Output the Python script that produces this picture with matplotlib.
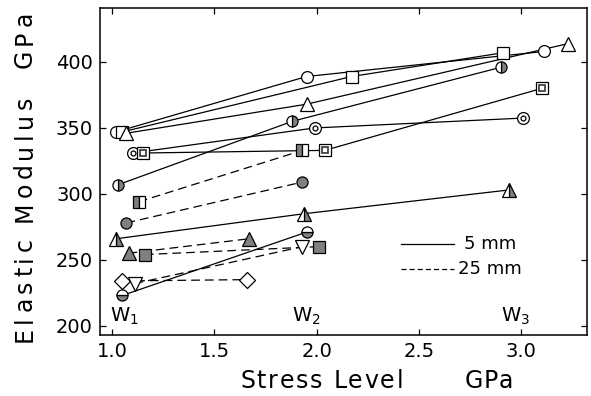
import matplotlib
matplotlib.use("Agg")
import matplotlib.pyplot as plt

# stress level (GPa) and elastic modulus (GPa) at W1, W2, W3
# 5 mm gauge length (solid lines)
circ_x, circ_y = [1.02, 1.95, 3.11], [347, 389, 408]
sq_x, sq_y = [1.05, 2.17, 2.91], [347, 389, 407]
tri_x, tri_y = [1.07, 1.95, 3.23], [346, 368, 414]
hcirc_x, hcirc_y = [1.03, 1.88, 2.90], [307, 355, 396]
bull_x, bull_y = [1.10, 1.99, 3.01], [331, 350, 357.5]
insq_x, insq_y = [1.15, 2.04, 3.10], [331, 333, 380]
htri_x, htri_y = [1.02, 1.94, 2.94], [266, 285, 303]
bcirc_x, bcirc_y = [1.05, 1.95], [223, 271]

# 25 mm gauge length (dashed lines)
hsq_x, hsq_y = [1.13, 1.93], [294, 333]
fcirc_x, fcirc_y = [1.07, 1.93], [278, 309]
ftri_x, ftri_y = [1.08, 1.67], [255, 266]
fsq_x, fsq_y = [1.16, 2.01], [254, 260]
dia_x, dia_y = [1.05, 1.66], [234, 235]
itri_x, itri_y = [1.11, 1.93], [232, 260]

stage_labels = ["W$_1$", "W$_2$", "W$_3$"]
stage_x = [1.06, 1.95, 2.97]

GREY = "0.5"
W, H = 591, 396
plt.rcParams["font.family"] = "DejaVu Sans"

fig = plt.figure(figsize=(W / 100, H / 100), dpi=100)
ax = fig.add_axes([0.169, 0.154, 0.824, 0.826])


def tracked(s, start, end, base, size, vertical=False):
    """Letter-spaced text running from pixel start to end (y up for vertical)."""
    r = fig.canvas.get_renderer()
    widths = []
    for ch in s:
        if ch == " ":
            widths.append(0.32 * size * fig.dpi / 72)
        else:
            t = fig.text(0, 0, ch, fontsize=size)
            widths.append(t.get_window_extent(r).width)
            t.remove()
    gap = (end - start - sum(widths)) / (len(s) - 1)
    pos = start
    for ch, w in zip(s, widths):
        if ch != " ":
            c = pos + w / 2
            if vertical:
                fig.text(base / W, c / H, ch, fontsize=size, rotation=90,
                         rotation_mode="anchor", ha="center", va="baseline")
            else:
                fig.text(c / W, base / H, ch, fontsize=size,
                         ha="center", va="baseline")
        pos += w + gap


solid = dict(color="k", lw=0.9, zorder=2)
dashed = dict(color="k", lw=0.9, ls=(0, (7, 4)), zorder=2)
mk = dict(mec="k", mew=0.9, zorder=3)

# solid series
ax.plot(circ_x, circ_y, **solid)
ax.plot(circ_x, circ_y, "o", ms=8.5, mfc="w", **mk)
ax.plot(sq_x, sq_y, **solid)
ax.plot(sq_x, sq_y, "s", ms=8, mfc="w", **mk)
ax.plot(tri_x, tri_y, **solid)
ax.plot(tri_x, tri_y, "^", ms=9.5, mfc="w", **mk)
ax.plot(hcirc_x, hcirc_y, **solid)
ax.plot(hcirc_x, hcirc_y, "o", ms=8, mfc=GREY, mfcalt="w", fillstyle="right", **mk)
ax.plot(bull_x, bull_y, **solid)
ax.plot(bull_x, bull_y, "o", ms=8.5, mfc="w", **mk)
ax.plot(bull_x, bull_y, "o", ms=3.5, mfc="w", mec="k", mew=0.9, zorder=4)
ax.plot(insq_x, insq_y, **solid)
ax.plot(insq_x, insq_y, "s", ms=8, mfc="w", **mk)
ax.plot(insq_x, insq_y, "s", ms=4, mfc="w", mec="0.2", mew=1.2, zorder=4)
ax.plot(htri_x, htri_y, **solid)
ax.plot(htri_x, htri_y, "^", ms=9.5, mfc=GREY, mfcalt="w", fillstyle="right", **mk)
ax.plot(bcirc_x, bcirc_y, **solid)
ax.plot(bcirc_x, bcirc_y, "o", ms=8, mfc=GREY, mfcalt="w", fillstyle="bottom", **mk)

# dashed series
ax.plot(hsq_x, hsq_y, **dashed)
ax.plot(hsq_x, hsq_y, "s", ms=8, mfc=GREY, mfcalt="w", fillstyle="left", **mk)
ax.plot(fcirc_x, fcirc_y, **dashed)
ax.plot(fcirc_x, fcirc_y, "o", ms=8, mfc=GREY, **mk)
ax.plot(ftri_x, ftri_y, **dashed)
ax.plot(ftri_x, ftri_y, "^", ms=9.5, mfc=GREY, **mk)
ax.plot(fsq_x, fsq_y, **dashed)
ax.plot(fsq_x, fsq_y, "s", ms=8, mfc=GREY, **mk)
ax.plot(dia_x, dia_y, **dashed)
ax.plot(dia_x, dia_y, "D", ms=8, mfc="w", **mk)
ax.plot(itri_x, itri_y, **dashed)
ax.plot(itri_x, itri_y, "v", ms=9.5, mfc="w", **mk)

# gauge length key
ax.plot([2.41, 2.67], [262, 262], color="k", lw=0.9)
ax.plot([2.41, 2.67], [243, 243], color="k", lw=0.9, ls=(0, (4, 2.5)))
ax.text(2.72, 262, "5 mm", fontsize=13, va="center")
ax.text(2.69, 243, "25 mm", fontsize=13, va="center")

for lab, x in zip(stage_labels, stage_x):
    ax.text(x, 207, lab, fontsize=14, ha="center", va="center")

ax.set_xlim(0.94, 3.32)
ax.set_ylim(193, 441)
ax.set_xticks([1.0, 1.5, 2.0, 2.5, 3.0])
ax.set_yticks([200, 250, 300, 350, 400])
ax.tick_params(direction="in", top=True, right=True, length=4, width=0.9,
               labelsize=14, pad=5)
for s in ax.spines.values():
    s.set_linewidth(1.1)

# axis titles with wide letter spacing
tracked("Elastic Modulus  GPa", H - 342, H - 12, 32, 17, vertical=True)
tracked("Stress Level", 240, 403, H - 388, 17)
tracked("GPa", 465, 513, H - 388, 17)

fig.savefig("out.png", dpi=100)
